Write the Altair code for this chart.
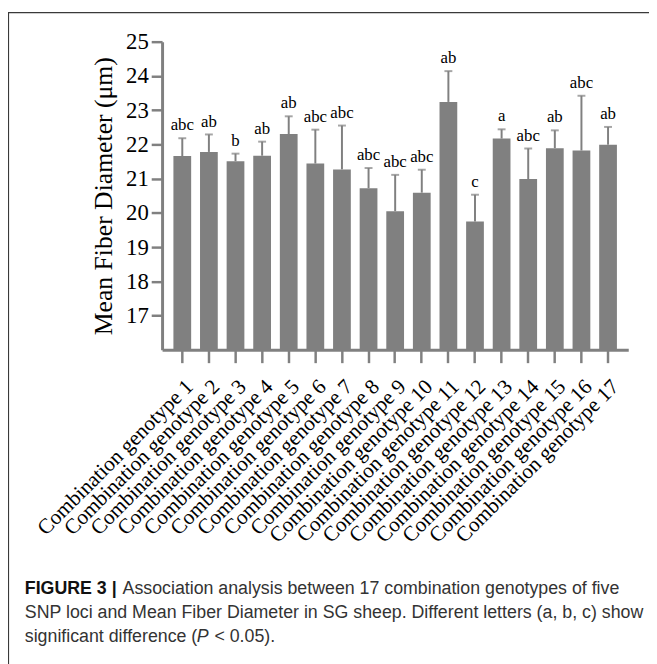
import altair as alt
import pandas as pd

# ---- data ----
categories = [f"Combination genotype {i}" for i in range(1, 18)]
means = [21.66, 21.78, 21.51, 21.67, 22.30, 21.44, 21.27, 20.72, 20.05,
         20.59, 23.24, 19.75, 22.17, 20.99, 21.89, 21.82, 21.99]
sds = [0.52, 0.51, 0.22, 0.41, 0.52, 0.99, 1.28, 0.59, 1.06,
       0.67, 0.90, 0.78, 0.27, 0.89, 0.52, 1.60, 0.52]
letters = ["abc", "ab", "b", "ab", "ab", "abc", "abc", "abc", "abc",
           "abc", "ab", "c", "a", "abc", "ab", "abc", "ab"]
y_ticks = [17, 18, 19, 20, 21, 22, 23, 24, 25]
y_domain = [16, 25]
y_title = "Mean Fiber Diameter (μm)"

caption_bold = "FIGURE 3 |"
caption_line1 = "Association analysis between 17 combination genotypes of five"
caption_line2 = "SNP loci and Mean Fiber Diameter in SG sheep. Different letters (a, b, c) show"
caption_line3a = "significant difference ("
caption_line3b = "P"
caption_line3c = "< 0.05)."

df = pd.DataFrame({"cat": categories, "mean": means, "sd": sds, "letter": letters})
df["top"] = df["mean"] + df["sd"]

GRAY = "#808080"
SERIF = "Liberation Serif"
SANS = "Liberation Sans"

W, H = 472, 312
PAD = {"left": 156, "top": 30, "right": 21, "bottom": 314}

xscale = alt.Scale(paddingInner=0.333, paddingOuter=0.426)
xaxis = alt.Axis(title=None, labelAngle=-45, labelAlign="right", labelBaseline="top",
                 labelFont=SERIF, labelFontSize=21.5, labelColor="black", labelPadding=13,
                 labelLimit=400, domainColor=GRAY, domainWidth=3, tickColor=GRAY,
                 tickWidth=2.5, tickSize=13, labelOverlap=False)
xenc = alt.X("cat:N", sort=categories, scale=xscale, axis=xaxis)

yscale = alt.Scale(domain=y_domain, nice=False, zero=False)
yaxis = alt.Axis(values=y_ticks, title=y_title, titleFont=SERIF, titleFontSize=26,
                 titleFontWeight="normal", titleColor="black", titlePadding=9,
                 labelFont=SERIF, labelFontSize=23, labelColor="black", labelPadding=3,
                 labelOverlap=False, labelBound=False,
                 domainColor=GRAY, domainWidth=3, tickColor=GRAY, tickWidth=2.5,
                 tickSize=11, grid=False)

base = alt.Chart(df)

bars = base.mark_bar(color=GRAY).encode(
    x=xenc,
    y=alt.Y("mean:Q", scale=yscale, axis=yaxis, title=y_title),
    y2=alt.datum(16),
)
err = base.mark_rule(color=GRAY, strokeWidth=2).encode(
    x=xenc, y=alt.Y("mean:Q", scale=yscale, axis=yaxis, title=y_title), y2="top:Q")
caps = base.mark_tick(color=GRAY, orient="horizontal", size=8, thickness=2).encode(
    x=xenc, y=alt.Y("top:Q", scale=yscale, axis=yaxis, title=y_title))
lbls = base.mark_text(font=SERIF, fontSize=17, baseline="alphabetic", dy=-8, color="black").encode(
    x=xenc, y=alt.Y("top:Q", scale=yscale, axis=yaxis, title=y_title), text="letter:N")

one = pd.DataFrame({"t": [0]})
frame_top = alt.Chart(one).mark_rule(color="#3a3a3a", strokeWidth=1.2).encode(
    x=alt.value(-156), x2=alt.value(500), y=alt.value(-29.5))
frame_left = alt.Chart(one).mark_rule(color="#3a3a3a", strokeWidth=1.2).encode(
    x=alt.value(-155.5), y=alt.value(-30), y2=alt.value(640))


def cap(text, x, y, weight="normal", style="normal", color="#333333"):
    return alt.Chart(pd.DataFrame({"t": [text]})).mark_text(
        font=SANS, fontSize=18, fontWeight=weight, fontStyle=style, align="left",
        baseline="alphabetic", color=color).encode(
        x=alt.value(x), y=alt.value(y), text="t:N")


capx = -139
captions = [
    cap(caption_bold, capx, 559, weight="bold", color="#111111"),
    cap(caption_line1, capx + 99, 559),
    cap(caption_line2, capx, 584),
    cap(caption_line3a, capx, 608),
    cap(caption_line3b, capx + 174, 608, style="italic"),
    cap(caption_line3c, capx + 192, 608),
]

chart = alt.layer(bars, err, caps, lbls, frame_top, frame_left, *captions).properties(
    width=W, height=H, padding=PAD, autosize="none"
).configure_view(stroke=None)

chart.save("out.html", embed_options={"renderer": "svg", "actions": False})
